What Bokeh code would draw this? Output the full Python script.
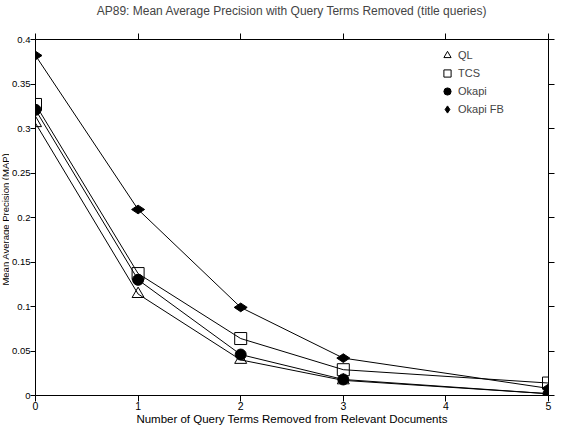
import math
from bokeh.plotting import figure
from bokeh.layouts import row
from bokeh.models import FixedTicker, LinearAxis, Legend, LegendItem, Range1d
from bokeh.core.properties import value
from bokeh.embed import file_html
from bokeh.resources import INLINE

title_text = "AP89: Mean Average Precision with Query Terms Removed (title queries)"
x_label = "Number of Query Terms Removed from Relevant Documents"
y_label = "Mean Average Precision (MAP)"

terms_removed = [0, 1, 2, 3, 5]
ql = [0.306, 0.114, 0.040, 0.017, 0.002]
tcs = [0.327, 0.137, 0.064, 0.029, 0.014]
okapi = [0.321, 0.130, 0.046, 0.018, 0.002]
okapi_fb = [0.382, 0.209, 0.099, 0.042, 0.008]

series_names = ["QL", "TCS", "Okapi", "Okapi FB"]

x_ticks = [0, 1, 2, 3, 4, 5]
y_ticks = [0, 0.05, 0.1, 0.15, 0.2, 0.25, 0.3, 0.35, 0.4]
y_tick_labels = ["0", "0.05", "0.1", "0.15", "0.2", "0.25", "0.3", "0.35", "0.4"]

FONT = "Liberation Sans"
H = 430
LABEL_W = 9                        # narrow strip that carries the y-axis title
W = 565 - LABEL_W
LEFT, RIGHT, TOP, BOTTOM = 26, 17, 39, 35
FH = H - TOP - BOTTOM

# ---- strip with the rotated y-axis title -------------------------------
ylab = figure(width=LABEL_W, height=H, output_backend="svg", toolbar_location=None,
              x_range=Range1d(0, LABEL_W), y_range=Range1d(0, H),
              x_axis_type=None, y_axis_type=None,
              min_border_left=0, min_border_right=0, min_border_top=0, min_border_bottom=0,
              background_fill_color="white", border_fill_color="white")
ylab.outline_line_color = None
ylab.grid.visible = False
ylab.text(x=[LABEL_W / 2], y=[H - (TOP + FH / 2)], text=[y_label], angle=math.pi / 2,
          text_align="center", text_baseline="middle",
          text_font=value(FONT), text_font_size="9.5px", text_color="black")

# ---- main plot -----------------------------------------------------------
p = figure(width=W, height=H, output_backend="svg", toolbar_location=None,
           x_range=Range1d(0, 5), y_range=Range1d(0, 0.4),
           min_border_left=LEFT, min_border_right=RIGHT,
           min_border_top=TOP, min_border_bottom=BOTTOM,
           background_fill_color="white", border_fill_color="white")
p.outline_line_color = None
p.xgrid.visible = False
p.ygrid.visible = False

p.title.text = title_text
p.title.text_font = FONT
p.title.text_font_size = "12px"
p.title.text_font_style = "normal"
p.title.align = "center"
p.title.standoff = 0


def style_axis(ax, ticks, font_size, standoff, tick_out=6):
    ax.ticker = FixedTicker(ticks=ticks)
    ax.minor_tick_line_color = None
    ax.major_tick_in = 0
    ax.major_tick_out = tick_out
    ax.axis_line_color = "black"
    ax.axis_line_width = 1
    ax.major_tick_line_color = "black"
    ax.major_label_text_font = FONT
    ax.major_label_text_color = "black"
    ax.major_label_standoff = standoff
    ax.major_label_text_font_size = font_size
    ax.axis_label_text_font = FONT
    ax.axis_label_text_font_style = "normal"
    ax.axis_label_text_color = "black"
    ax.axis_label_standoff = 0


style_axis(p.xaxis[0], x_ticks, "10.5px", 0)
p.xaxis[0].axis_label = x_label
p.xaxis[0].axis_label_text_font_size = "11.5px"

style_axis(p.yaxis[0], y_ticks, "9.5px", 0, tick_out=5)
p.yaxis[0].major_label_overrides = {t: s for t, s in zip(y_ticks, y_tick_labels)}

# top border axis; its blank axis label only spaces the title away from the frame
top_ax = LinearAxis()
style_axis(top_ax, x_ticks, "0px", 0)
top_ax.axis_label = " "
top_ax.axis_label_text_font_size = "10px"
top_ax.axis_label_standoff = 2
p.add_layout(top_ax, "above")

right_ax = LinearAxis()
style_axis(right_ax, y_ticks, "0px", 0)
p.add_layout(right_ax, "right")

series = [ql, tcs, okapi, okapi_fb]
markers = [
    dict(marker="triangle", size=12, fill_color=None, line_color="black"),
    dict(marker="square", size=12, fill_color=None, line_color="black"),
    dict(marker="circle", size=11, fill_color="black", line_color="black"),
    dict(marker="diamond", size=13, angle=math.pi / 2, fill_color="black", line_color="black"),
]

for vals in series:
    p.line(terms_removed, vals, line_color="black", line_width=1)

items = []
for name, vals, mk in zip(series_names, series, markers):
    r = p.scatter(terms_removed, vals, line_width=1, **mk)
    items.append(LegendItem(label=name, renderers=[r]))

legend = Legend(items=items, location=(402, FH - 79), margin=0, padding=0,
                border_line_color=None, background_fill_alpha=0,
                label_text_font=FONT, label_text_font_size="11px",
                glyph_width=20, glyph_height=18, label_height=18,
                spacing=0, label_standoff=1)
p.add_layout(legend)

layout = row(ylab, p, spacing=0)
open("out.html", "w").write(file_html(layout, INLINE))
